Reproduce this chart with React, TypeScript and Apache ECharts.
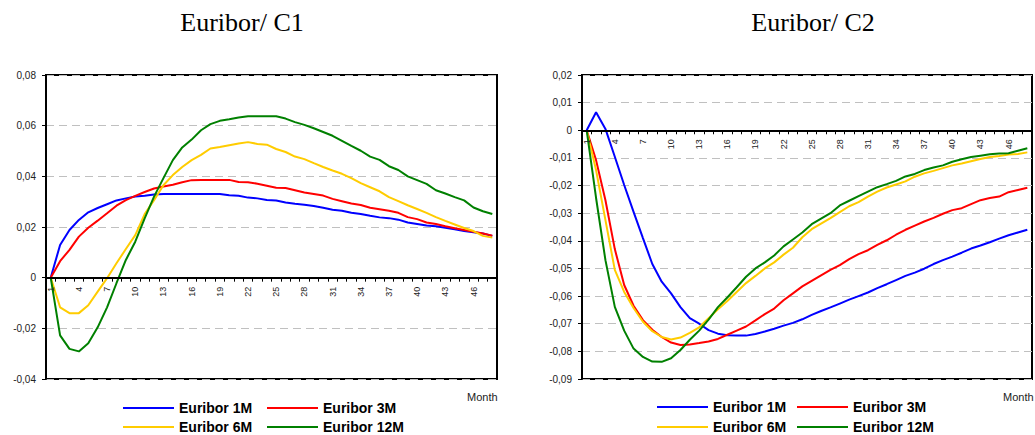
import React, { useEffect, useRef } from "react";
import * as echarts from "echarts";

const months: string[] = Array.from({ length: 48 }, (_, i) => String(i + 1));

const seriesNames = ["Euribor 1M", "Euribor 3M", "Euribor 6M", "Euribor 12M"];
const seriesColors = ["#0000FF", "#FF0000", "#FFCC00", "#008000"];

// Panel C1
const c1_1M = [0, 0.0129, 0.0188, 0.0228, 0.0258, 0.0275, 0.029, 0.0305, 0.0313, 0.032, 0.0323, 0.0328, 0.033, 0.033, 0.033, 0.033, 0.033, 0.033, 0.033, 0.0325, 0.0323, 0.0316, 0.0313, 0.0307, 0.0305, 0.0297, 0.0292, 0.0288, 0.0283, 0.0276, 0.0268, 0.0264, 0.0256, 0.0251, 0.0244, 0.0238, 0.0235, 0.0229, 0.0218, 0.0212, 0.0206, 0.0203, 0.0197, 0.0191, 0.0184, 0.0179, 0.0174, 0.0165];
const c1_3M = [0, 0.0065, 0.011, 0.0162, 0.0197, 0.0225, 0.0254, 0.0284, 0.0306, 0.0323, 0.0338, 0.0352, 0.036, 0.0367, 0.0377, 0.0385, 0.0386, 0.0386, 0.0386, 0.0386, 0.0378, 0.0377, 0.0371, 0.0363, 0.0355, 0.0354, 0.0345, 0.0336, 0.033, 0.0324, 0.0311, 0.0302, 0.0293, 0.0287, 0.0276, 0.027, 0.0264, 0.0256, 0.0239, 0.0231, 0.0218, 0.0212, 0.0203, 0.0195, 0.0188, 0.0181, 0.0174, 0.0166];
const c1_6M = [0, -0.0117, -0.014, -0.014, -0.0109, -0.0055, -0.0002, 0.0057, 0.0113, 0.0168, 0.0251, 0.0306, 0.0365, 0.0405, 0.0437, 0.0464, 0.0485, 0.051, 0.0516, 0.0523, 0.053, 0.0535, 0.0528, 0.0525, 0.0508, 0.0496, 0.0478, 0.0468, 0.0452, 0.0437, 0.0423, 0.041, 0.0393, 0.0373, 0.0357, 0.0341, 0.0318, 0.0302, 0.0286, 0.0271, 0.0256, 0.0239, 0.0224, 0.021, 0.0196, 0.0184, 0.0165, 0.0158];
const c1_12M = [0, -0.0228, -0.0281, -0.0291, -0.0259, -0.0196, -0.0117, -0.0022, 0.007, 0.0142, 0.0234, 0.032, 0.0393, 0.0464, 0.0514, 0.0545, 0.0582, 0.0606, 0.0619, 0.0625, 0.0632, 0.0637, 0.0637, 0.0637, 0.0637, 0.0628, 0.0614, 0.0603, 0.059, 0.0575, 0.056, 0.054, 0.052, 0.0501, 0.0478, 0.0465, 0.044, 0.0425, 0.04, 0.0385, 0.037, 0.0345, 0.0332, 0.0318, 0.0305, 0.0277, 0.0262, 0.0251];

// Panel C2
const c2_1M = [0, 0.0065, 0.0005, -0.0096, -0.0198, -0.0295, -0.039, -0.0484, -0.0548, -0.059, -0.064, -0.068, -0.07, -0.0723, -0.0736, -0.0742, -0.0743, -0.0743, -0.0737, -0.0728, -0.0718, -0.0707, -0.0697, -0.0684, -0.0668, -0.0654, -0.0641, -0.0627, -0.0613, -0.06, -0.0587, -0.0571, -0.0557, -0.0542, -0.0527, -0.0515, -0.0501, -0.0484, -0.047, -0.0457, -0.0443, -0.0428, -0.0417, -0.0405, -0.0392, -0.038, -0.037, -0.036];
const c2_3M = [0, -0.0108, -0.0253, -0.043, -0.056, -0.0635, -0.0687, -0.0722, -0.0748, -0.0768, -0.0777, -0.0775, -0.077, -0.0764, -0.0755, -0.074, -0.0725, -0.071, -0.0688, -0.0665, -0.0645, -0.0615, -0.059, -0.0565, -0.0545, -0.0525, -0.0505, -0.0488, -0.0466, -0.0448, -0.0434, -0.0415, -0.0398, -0.0378, -0.036, -0.0345, -0.033, -0.0317, -0.0302, -0.0289, -0.0282, -0.0267, -0.0253, -0.0245, -0.024, -0.0224, -0.0216, -0.0208];
const c2_6M = [0, -0.0144, -0.0325, -0.0505, -0.0585, -0.0643, -0.0693, -0.0727, -0.0748, -0.0757, -0.075, -0.0733, -0.0713, -0.068, -0.0648, -0.0618, -0.0585, -0.0553, -0.0527, -0.05, -0.0478, -0.045, -0.0425, -0.0387, -0.0358, -0.0338, -0.0318, -0.0296, -0.0275, -0.026, -0.024, -0.0222, -0.0207, -0.0196, -0.0185, -0.0168, -0.0156, -0.0147, -0.0137, -0.0127, -0.012, -0.0112, -0.0104, -0.0097, -0.0093, -0.0088, -0.0086, -0.008];
const c2_12M = [0, -0.0245, -0.047, -0.0639, -0.0725, -0.079, -0.082, -0.0837, -0.0838, -0.0825, -0.0795, -0.0758, -0.0725, -0.0685, -0.064, -0.0605, -0.0568, -0.053, -0.05, -0.0478, -0.0453, -0.042, -0.0395, -0.037, -0.034, -0.032, -0.03, -0.0272, -0.0255, -0.0238, -0.0222, -0.0206, -0.0195, -0.0183, -0.0167, -0.0158, -0.0144, -0.0135, -0.0127, -0.0114, -0.0105, -0.0097, -0.0092, -0.0087, -0.0084, -0.0083, -0.0074, -0.0065];

const titles = ["Euribor/ C1", "Euribor/ C2"];
const xAxisName = "Month";

const fmt = (v: number) => (Math.abs(v) < 1e-9 ? "0" : v.toFixed(2).replace(".", ","));

export default function App() {
  const ref = useRef<HTMLDivElement>(null);
  useEffect(() => {
    if (!ref.current) return;
    const chart = echarts.init(ref.current, undefined, { renderer: "svg" });
    const panels = [
      { data: [c1_1M, c1_3M, c1_6M, c1_12M], min: -0.04, max: 0.08, interval: 0.02 },
      { data: [c2_1M, c2_3M, c2_6M, c2_12M], min: -0.09, max: 0.02, interval: 0.01 },
    ];
    const grids = [
      { left: 46, top: 75, width: 451, height: 304 },
      { left: 582, top: 75, width: 450, height: 304 },
    ];
    // place the category axis on the zero line (distance from grid bottom to value 0)
    const zeroOffsets = panels.map((p, i) => -grids[i].height * (0 - p.min) / (p.max - p.min));
    const labelFont = "'Liberation Sans', Arial, sans-serif";
    // legend slots: [seriesIndex, left, top]
    const legendSlots: [number, number, number][] = [
      [0, 123, 401], [2, 123, 420], [1, 267, 401], [3, 267, 420],
      [0, 657, 400], [2, 657, 420], [1, 797, 400], [3, 797, 420],
    ];
    const option: any = {
      animation: false,
      backgroundColor: "#fff",
      grid: grids.map((g) => ({ ...g, show: true, borderColor: "#000", borderWidth: 2, backgroundColor: "transparent" })),
      xAxis: grids.map((_, i) => ({
        type: "category",
        gridIndex: i,
        data: months,
        boundaryGap: true,
        position: "bottom",
        offset: zeroOffsets[i],
        axisLine: { onZero: false, lineStyle: { color: "#000", width: 2 } },
        axisTick: { show: true, interval: 0, length: 4, lineStyle: { color: "#000", width: 1 } },
        axisLabel: { interval: 2, rotate: 90, margin: 9, fontSize: 9, fontFamily: labelFont, color: "#222" },
        splitLine: { show: false },
        z: 4,
      })),
      yAxis: panels.map((p, i) => ({
        type: "value",
        gridIndex: i,
        min: p.min,
        max: p.max,
        interval: p.interval,
        axisLine: { show: true, onZero: false, lineStyle: { color: "#000", width: 2 } },
        axisTick: { show: true, length: 4, lineStyle: { color: "#000" } },
        axisLabel: { margin: 10, fontSize: 10, fontFamily: labelFont, color: "#222", formatter: fmt },
        splitLine: { show: true, lineStyle: { color: "#C0C0C0", type: [8, 5], width: 1 } },
      })),
      legend: legendSlots.map(([k, left, top]) => ({
        data: [seriesNames[k]],
        left,
        top,
        orient: "horizontal",
        padding: 0,
        itemWidth: 51,
        itemHeight: 2,
        icon: "rect",
        selectedMode: false,
        textStyle: { fontSize: 14, fontWeight: "bold", fontFamily: labelFont, color: "#000", lineHeight: 14 },
      })),
      graphic: [
        { type: "text", x: 242, y: 22, style: { text: titles[0], font: "26px 'Liberation Serif', 'Times New Roman', serif", fill: "#000", align: "center", verticalAlign: "middle" } },
        { type: "text", x: 813, y: 22, style: { text: titles[1], font: "26px 'Liberation Serif', 'Times New Roman', serif", fill: "#000", align: "center", verticalAlign: "middle" } },
        { type: "text", x: 467, y: 397, style: { text: xAxisName, font: "11px 'Liberation Sans', Arial, sans-serif", fill: "#222", align: "left", verticalAlign: "middle" } },
        { type: "text", x: 1003, y: 397, style: { text: xAxisName, font: "11px 'Liberation Sans', Arial, sans-serif", fill: "#222", align: "left", verticalAlign: "middle" } },
      ],
      series: panels.flatMap((p, i) =>
        p.data.map((d, k) => ({
          type: "line",
          name: seriesNames[k],
          xAxisIndex: i,
          yAxisIndex: i,
          data: d,
          showSymbol: false,
          symbol: "none",
          color: seriesColors[k],
          lineStyle: { color: seriesColors[k], width: 2 },
          z: 3,
        }))
      ),
    };
    chart.setOption(option);
    return () => chart.dispose();
  }, []);
  return <div ref={ref} style={{ position: "absolute", left: 0, top: 0, width: 1035, height: 435 }} />;
}
